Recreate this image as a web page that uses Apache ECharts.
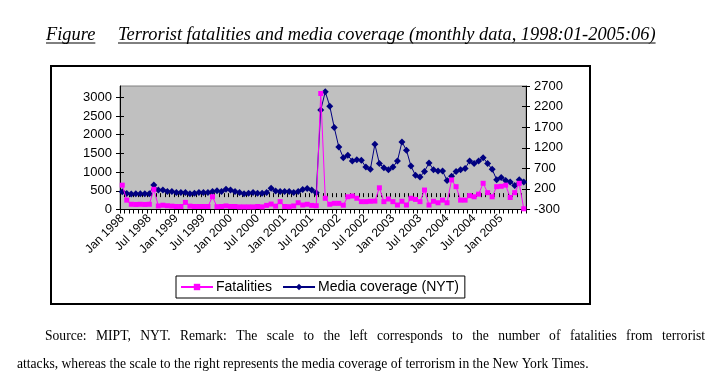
<!DOCTYPE html>
<html>
<head>
<meta charset="utf-8">
<script src="https://cdn.jsdelivr.net/npm/echarts@6/dist/echarts.min.js"></script>
<style>
html,body{margin:0;padding:0;background:#fff;}
#chart{width:715px;height:391px;}
</style>
</head>
<body>
<div id="chart"></div>
<script>
// ---- data ----
const monthNames = ['Jan','Feb','Mar','Apr','May','Jun','Jul','Aug','Sep','Oct','Nov','Dec'];
const startYear = 1998, nMonths = 90; // 1998:01 - 2005:06
const categories = [];
for (let i = 0; i < nMonths; i++) {
  categories.push(monthNames[i % 12] + ' ' + (startYear + Math.floor(i / 12)));
}
const fatalities = [
  650, 250, 140, 135, 140, 135, 140, 540, 95, 115,
  100, 90, 80, 80, 190, 90, 80, 80, 80, 80,
  340, 75, 80, 95, 80, 80, 70, 70, 70, 70,
  80, 70, 110, 145, 90, 210, 80, 75, 95, 180,
  120, 140, 110, 100, 3100, 300, 140, 165, 165, 115,
  340, 360, 300, 210, 210, 220, 225, 580, 210, 280,
  210, 120, 220, 120, 300, 270, 210, 520, 120, 220,
  180, 250, 180, 790, 610, 250, 250, 370, 340, 410,
  700, 450, 340, 610, 620, 650, 320, 450, 700, 20
];
const mediaCoverage = [
  133, 90, 75, 85, 80, 85, 80, 295, 175, 175,
  140, 135, 115, 115, 115, 80, 95, 110, 110, 110,
  135, 155, 135, 190, 175, 135, 110, 80, 95, 110,
  95, 95, 110, 215, 150, 135, 135, 135, 110, 135,
  185, 210, 175, 105, 2115, 2560, 2210, 1690, 1220, 960,
  1015, 880, 910, 895, 730, 675, 1285, 815, 715, 665,
  730, 880, 1340, 1140, 755, 530, 490, 625, 830, 665,
  635, 635, 405, 510, 625, 665, 695, 880, 815, 880,
  960, 815, 675, 425, 475, 405, 365, 285, 425, 365
];
const leftTicks = [0, 500, 1000, 1500, 2000, 2500, 3000];
const rightTicks = [-300, 200, 700, 1200, 1700, 2200, 2700];
const seriesNames = ['Fatalities', 'Media coverage (NYT)'];
const titleFig = 'Figure';
const titleMain = 'Terrorist fatalities and media coverage (monthly data, 1998:01-2005:06)';
const note1 = 'Source: MIPT, NYT. Remark: The scale to the left corresponds to the number of fatalities from terrorist';
const note2 = 'attacks, whereas the scale to the right represents the media coverage of terrorism in the New York Times.';

// ---- text measuring helpers ----
const cv = document.createElement('canvas').getContext('2d');
function measure(text, font) { cv.font = font; return cv.measureText(text).width; }
const serif = "'Liberation Serif', 'Times New Roman', serif";

const tRef = measure(titleMain, 'italic 16px ' + serif);
const titleSize = 16 * 538 / tRef;
const titleFont = 'italic ' + titleSize.toFixed(2) + 'px ' + serif;

const nRef = measure(note2, '13px ' + serif);
const noteSize = 13 * 572 / nRef;
const noteFont = noteSize.toFixed(2) + 'px ' + serif;

const graphics = [];
// outer chart frame
graphics.push({type:'rect', shape:{x:51, y:66, width:539, height:238}, style:{fill:'none', stroke:'#000', lineWidth:2}, z:-10, silent:true});
// title
graphics.push({type:'text', x:46, y:35, style:{text:titleFig, font:titleFont, fill:'#000', textAlign:'left', textVerticalAlign:'middle', align:'left', verticalAlign:'middle'}});
graphics.push({type:'line', shape:{x1:46, y1:43, x2:46 + measure(titleFig, titleFont), y2:43}, style:{stroke:'#000', lineWidth:1}});
graphics.push({type:'text', x:118, y:35, style:{text:titleMain, font:titleFont, fill:'#000', textAlign:'left', textVerticalAlign:'middle', align:'left', verticalAlign:'middle'}});
graphics.push({type:'line', shape:{x1:118, y1:43, x2:118 + measure(titleMain, titleFont), y2:43}, style:{stroke:'#000', lineWidth:1}});
// note line 1 (justified)
(function(){
  const words = note1.split(' ');
  const x0 = 45, x1 = 705;
  const ws = words.map(w => measure(w, noteFont));
  const sum = ws.reduce((a,b)=>a+b, 0);
  const gap = (x1 - x0 - sum) / (words.length - 1);
  let x = x0;
  words.forEach((w, k) => {
    graphics.push({type:'text', x:x, y:336, style:{text:w, font:noteFont, fill:'#000', textAlign:'left', textVerticalAlign:'middle', align:'left', verticalAlign:'middle'}});
    x += ws[k] + gap;
  });
})();
graphics.push({type:'text', x:17, y:364, style:{text:note2, font:noteFont, fill:'#000', textAlign:'left', textVerticalAlign:'middle', align:'left', verticalAlign:'middle'}});

const axisFont = {fontFamily:"'Liberation Sans', Arial, sans-serif", fontSize:13, color:'#000'};
const plain = v => String(v);

const chart = echarts.init(document.getElementById('chart'), null, {renderer:'canvas'});
chart.setOption({
  animation: false,
  backgroundColor: '#fff',
  grid: {left:120, top:86, right:189, bottom:181.5, show:true, backgroundColor:'#c0c0c0', borderColor:'#808080', borderWidth:1, containLabel:false},
  legend: {
    data: seriesNames,
    left: 176, top: 276,
    orient: 'horizontal',
    padding: [4, 6, 4, 4],
    itemGap: 10,
    itemWidth: 32, itemHeight: 8,
    borderColor: '#000', borderWidth: 1,
    textStyle: {fontFamily:"'Liberation Sans', Arial, sans-serif", fontSize:14, color:'#000', padding:[0,0,0,-2]}
  },
  xAxis: [{
    type:'category', data:categories, boundaryGap:true, position:'bottom',
    axisLine:{show:true, lineStyle:{color:'#000', width:1}},
    axisTick:{show:true, interval:0, alignWithLabel:false, length:4, lineStyle:{color:'#000'}},
    axisLabel:{interval:5, rotate:45, margin:7, fontFamily:"'Liberation Sans', Arial, sans-serif", fontSize:12, color:'#000'},
    splitLine:{show:false}
  }, {
    type:'category', data:categories, boundaryGap:true, position:'bottom', offset:0,
    axisLine:{show:false},
    axisTick:{show:true, inside:true, interval:0, length:4, lineStyle:{color:'#000'}},
    axisLabel:{show:false}, splitLine:{show:false}
  }],
  yAxis: [{
    type:'value', position:'left', min:0, max:3300,
    axisLine:{show:true, lineStyle:{color:'#000'}},
    axisTick:{show:true, length:4, customValues:leftTicks, lineStyle:{color:'#000'}},
    axisLabel:Object.assign({margin:8, customValues:leftTicks, formatter:plain}, axisFont),
    splitLine:{show:false}
  }, {
    type:'value', position:'right', min:-300, max:2700,
    axisLine:{show:true, lineStyle:{color:'#000'}},
    axisTick:{show:true, length:4, customValues:rightTicks, lineStyle:{color:'#000'}},
    axisLabel:Object.assign({margin:8, customValues:rightTicks, formatter:plain}, axisFont),
    splitLine:{show:false}
  }, {
    type:'value', position:'left', min:0, max:3300, offset:0,
    axisLine:{show:false},
    axisTick:{show:true, inside:true, length:4, customValues:leftTicks, lineStyle:{color:'#000'}},
    axisLabel:{show:false}, splitLine:{show:false}
  }, {
    type:'value', position:'right', min:-300, max:2700, offset:0,
    axisLine:{show:false},
    axisTick:{show:true, inside:true, length:4, customValues:rightTicks, lineStyle:{color:'#000'}},
    axisLabel:{show:false}, splitLine:{show:false}
  }],
  series: [{
    name: seriesNames[0], type:'line', xAxisIndex:0, yAxisIndex:0, data:fatalities,
    symbol:'rect', symbolSize:5, showAllSymbol:true,
    lineStyle:{color:'#ff00ff', width:1}, itemStyle:{color:'#ff00ff'}, z:3
  }, {
    name: seriesNames[1], type:'line', xAxisIndex:0, yAxisIndex:1, data:mediaCoverage,
    symbol:'diamond', symbolSize:7, showAllSymbol:true,
    lineStyle:{color:'#000080', width:1}, itemStyle:{color:'#000080'}, z:2
  }],
  graphic: graphics
});
</script>
</body>
</html>
